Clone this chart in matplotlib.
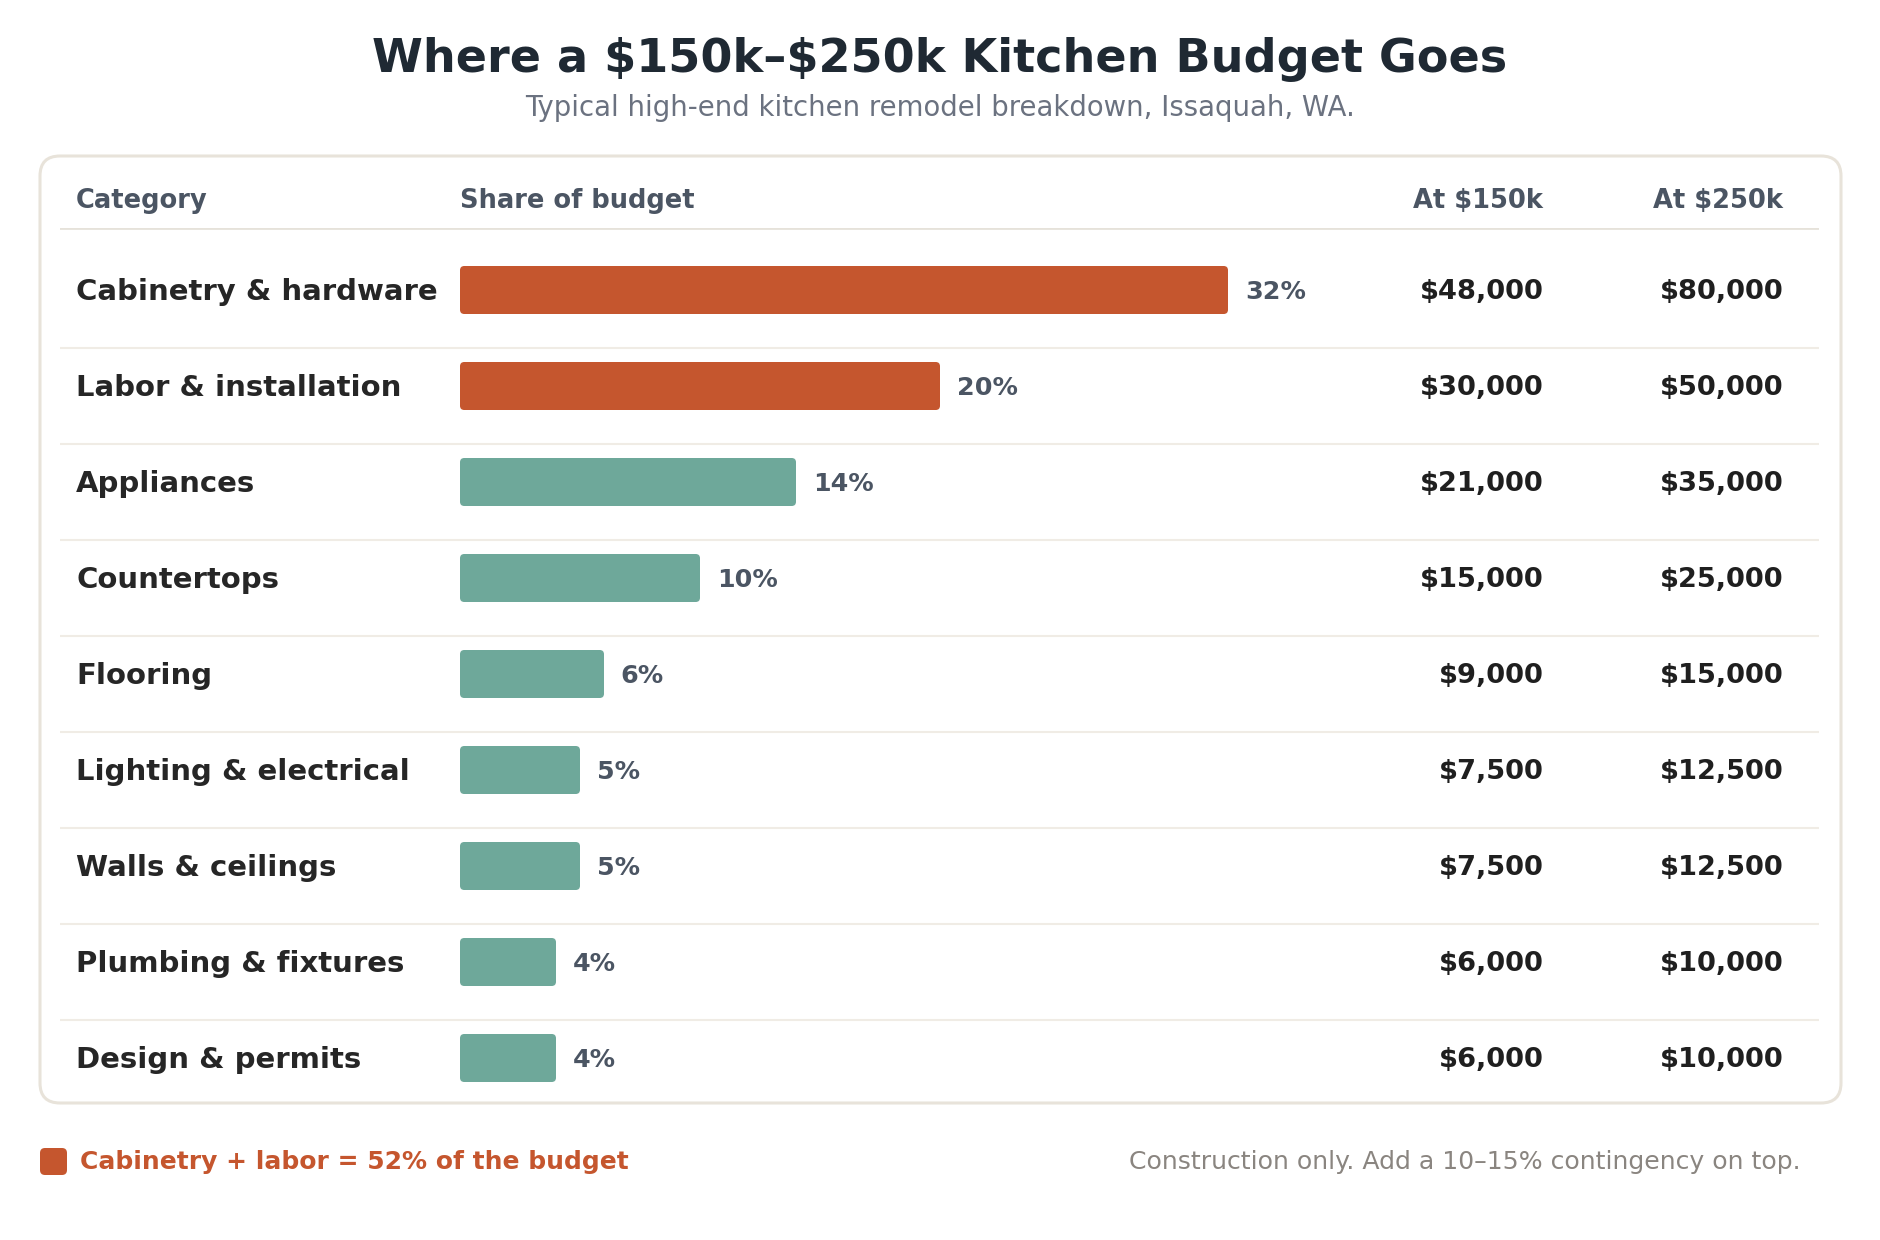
import matplotlib.pyplot as plt
from matplotlib.patches import FancyBboxPatch
from matplotlib import transforms

categories = ["Cabinetry & hardware", "Labor & installation", "Appliances", "Countertops",
              "Flooring", "Lighting & electrical", "Walls & ceilings", "Plumbing & fixtures",
              "Design & permits"]
shares = [32, 20, 14, 10, 6, 5, 5, 4, 4]
at_150k = [48000, 30000, 21000, 15000, 9000, 7500, 7500, 6000, 6000]
at_250k = [80000, 50000, 35000, 25000, 15000, 12500, 12500, 10000, 10000]
highlight = ["Cabinetry & hardware", "Labor & installation"]

ORANGE = "#c5562e"
TEAL = "#6ea89a"
W, H = 1880, 1240

plt.rcParams['font.family'] = ['DejaVu Sans']
plt.rcParams['text.parse_math'] = False
fig = plt.figure(figsize=(W / 100, H / 100), dpi=100)

# background layer in pixel coords
bg = fig.add_axes([0, 0, 1, 1])
bg.set_xlim(0, W)
bg.set_ylim(H, 0)
bg.axis('off')

bg.text(W / 2, 59, "Where a $150k\u2013$250k Kitchen Budget Goes", ha='center', va='center',
        fontsize=33.2, fontweight='bold', color='#1f2933')
bg.text(W / 2, 108, "Typical high-end kitchen remodel breakdown, Issaquah, WA.", ha='center',
        va='center', fontsize=19.8, color='#6b7280')

card = FancyBboxPatch((40, 156), 1801, 947, boxstyle="round,pad=0,rounding_size=20",
                      facecolor='white', edgecolor='#e8e3da', linewidth=2.2)
bg.add_patch(card)

# header
hy = 201
hdr = dict(va='center', fontsize=18.5, fontweight='bold', color='#4b5563')
bg.text(76, hy, "Category", ha='left', **hdr)
bg.text(460, hy, "Share of budget", ha='left', **hdr)
bg.text(1543, hy, "At $150k", ha='right', **hdr)
bg.text(1783, hy, "At $250k", ha='right', **hdr)

# bars axes: x in percent, y in row index
px_per_pct = 24
ax_left, ax_right = 60, 1819
ax_top, ax_bot = 228, 1103
ax = fig.add_axes([ax_left / W, 1 - ax_bot / H, (ax_right - ax_left) / W, (ax_bot - ax_top) / H])
ax.set_xlim(-(460 - ax_left) / px_per_pct, (ax_right - 460) / px_per_pct)
row_h = 96
ax.set_ylim((ax_bot - 290) / row_h, (ax_top - 290) / row_h)
ax.axis('off')
ax.patch.set_alpha(0)

ax.axhline(-0.65, color='#e6e2da', linewidth=2)

fx = transforms.blended_transform_factory(fig.transFigure, ax.transData)
n = len(categories)
dy = 0.025  # small nudge so text sits like the reference
for i, (cat, s, a, b) in enumerate(zip(categories, shares, at_150k, at_250k)):
    color = ORANGE if cat in highlight else TEAL
    # rounding in percent units, aspect fixes the vertical radius in row units
    bar = FancyBboxPatch((0, i - 0.25), s, 0.5, boxstyle="round,pad=0,rounding_size=0.18",
                         mutation_aspect=px_per_pct / row_h,
                         facecolor=color, edgecolor='none')
    ax.add_patch(bar)
    ax.text(s + 0.7, i + dy, f"{s}%", ha='left', va='center', fontsize=18.3, fontweight='bold',
            color='#4b5563')
    ax.text(76 / W, i + dy, cat, transform=fx, ha='left', va='center', fontsize=21,
            fontweight='bold', color='#262626')
    ax.text(1544 / W, i + dy, f"${a:,}", transform=fx, ha='right', va='center', fontsize=19.6,
            fontweight='bold', color='#1f1f1f')
    ax.text(1784 / W, i + dy, f"${b:,}", transform=fx, ha='right', va='center', fontsize=19.6,
            fontweight='bold', color='#1f1f1f')
    if i < n - 1:
        ax.axhline(i + 0.6, color='#f0ece5', linewidth=1.5)

# footer
sq = FancyBboxPatch((40, 1148), 27, 27, boxstyle="round,pad=0,rounding_size=5",
                    facecolor=ORANGE, edgecolor='none')
bg.add_patch(sq)
bg.text(80, 1162, f"Cabinetry + labor = {shares[0] + shares[1]}% of the budget", ha='left', va='center',
        fontsize=18, fontweight='bold', color=ORANGE)
bg.text(1801, 1162, "Construction only. Add a 10\u201315% contingency on top.", ha='right', va='center',
        fontsize=18.1, color='#8a8580')

fig.savefig("out.png", dpi=100, facecolor='white')
